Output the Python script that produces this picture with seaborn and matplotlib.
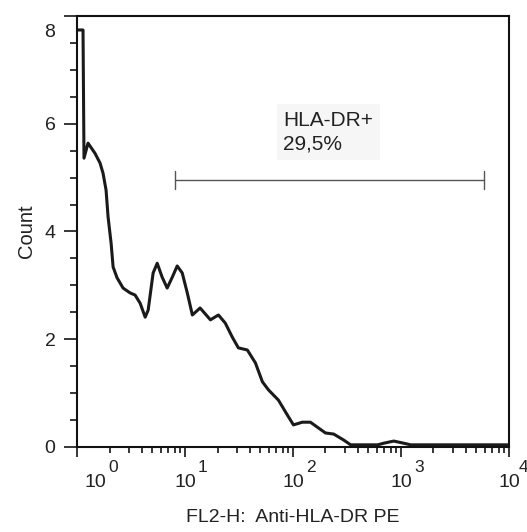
import numpy as np
import matplotlib
matplotlib.use("Agg")
import matplotlib.pyplot as plt
import matplotlib.transforms as mtransforms
from matplotlib.ticker import FixedLocator, NullFormatter
import seaborn as sns

# Histogram trace (FL2-H intensity vs count)
intensity = [1.0, 1.137, 1.161, 1.265, 1.469, 1.635, 1.743, 1.858, 1.94, 2.07, 2.16,
             2.35, 2.67, 3.10, 3.45, 3.84, 4.28, 4.56, 5.07, 5.53, 6.15, 6.84, 7.62,
             8.47, 9.43, 10.5, 11.7, 13.8, 17.2, 20.4, 23.6, 27.4, 31.2, 37.8, 44.9,
             52.1, 59.3, 73.3, 88.9, 101, 122, 145, 173, 200, 238, 294, 342, 608,
             692, 857, 1060, 1230, 10000]
count = [7.74, 7.74, 5.36, 5.64, 5.45, 5.27, 5.08, 4.77, 4.27, 3.78, 3.34,
         3.14, 2.95, 2.86, 2.82, 2.67, 2.41, 2.54, 3.23, 3.41, 3.15, 2.95, 3.15,
         3.36, 3.23, 2.86, 2.45, 2.58, 2.36, 2.45, 2.30, 2.04, 1.84, 1.80, 1.56,
         1.21, 1.06, 0.87, 0.59, 0.41, 0.46, 0.46, 0.35, 0.26, 0.24, 0.13, 0.04, 0.04,
         0.07, 0.11, 0.07, 0.04, 0.04]

# Marker gate
gate_range = [8.1, 5860]
gate_level = 4.95
gate_name = "HLA-DR+"
gate_pct = "29,5%"

x_major = [1, 10, 100, 1000, 10000]
x_exponents = ["0", "1", "2", "3", "4"]
y_major = [0, 2, 4, 6, 8]

sns.set_style("ticks")
plt.rcParams["font.family"] = ["Liberation Sans", "DejaVu Sans"]

fig = plt.figure(figsize=(5.27, 5.32), dpi=100)
ax = fig.add_axes([0.1461, 0.1598, 0.8197, 0.8102])

sns.lineplot(x=np.array(intensity), y=np.array(count), ax=ax, color="#1a1a1a",
             linewidth=2.2, sort=False, solid_joinstyle="round", solid_capstyle="round")

# gate marker
ax.plot(gate_range, [gate_level, gate_level], color="#555555", linewidth=1.0)
for gx in gate_range:
    ax.plot([gx, gx], [gate_level - 0.17, gate_level + 0.17], color="#555555", linewidth=1.0)
ax.text(81.6, 5.85, gate_name + "\n" + gate_pct, fontsize=15, color="#222222",
        ha="left", va="center", linespacing=1.3,
        bbox=dict(facecolor="#f6f6f6", edgecolor="none", pad=5))

ax.set_xscale("log")
ax.set_xlim(1, 10000)
ax.set_ylim(0, 8)

ax.xaxis.set_major_locator(FixedLocator(x_major))
ax.set_xticklabels(["10"] * len(x_major), fontsize=14, color="#222222")
minors = [m * 10 ** d for d in range(4) for m in range(2, 10)]
ax.xaxis.set_minor_locator(FixedLocator(minors))
ax.xaxis.set_minor_formatter(NullFormatter())

ax.yaxis.set_major_locator(FixedLocator(y_major))
ax.set_yticklabels([str(v) for v in y_major], fontsize=14, color="#222222")
ax.yaxis.set_minor_locator(FixedLocator(np.arange(0.5, 8, 0.5)))

ax.tick_params(axis="y", which="major", length=9.5, width=1.3, pad=6, direction="out")
ax.tick_params(axis="y", which="minor", length=5, width=1.3, direction="out")
ax.tick_params(axis="x", which="major", length=7.5, width=1.3, pad=12, direction="out")
ax.tick_params(axis="x", which="minor", length=4.5, width=1.3, direction="out")

for s in ax.spines.values():
    s.set_visible(True)
    s.set_linewidth(1.5)
    s.set_color("#111111")

# edge labels sit shifted, as in the reference
lab0 = ax.get_xticklabels()[0]
lab0.set_transform(lab0.get_transform() + mtransforms.ScaledTranslation(18 / 100, 0, fig.dpi_scale_trans))
lab8 = ax.get_yticklabels()[-1]
lab8.set_transform(lab8.get_transform() + mtransforms.ScaledTranslation(0, -15 / 100, fig.dpi_scale_trans))

# exponents drawn beside each "10"
for i, (xt, ex) in enumerate(zip(x_major, x_exponents)):
    dx = 36 if i == 0 else (14 if i == 4 else 18)
    ax.annotate(ex, xy=(xt, 0), xycoords=ax.get_xaxis_transform(),
                xytext=(dx, -21), textcoords="offset pixels",
                ha="center", va="center", fontsize=12.5, color="#222222",
                annotation_clip=False)

ax.set_xlabel("FL2-H:  Anti-HLA-DR PE", fontsize=14, labelpad=13, color="#222222")
ax.set_ylabel("Count", fontsize=14.5, labelpad=6, color="#222222")

fig.savefig("out.png", dpi=100, facecolor="white")
